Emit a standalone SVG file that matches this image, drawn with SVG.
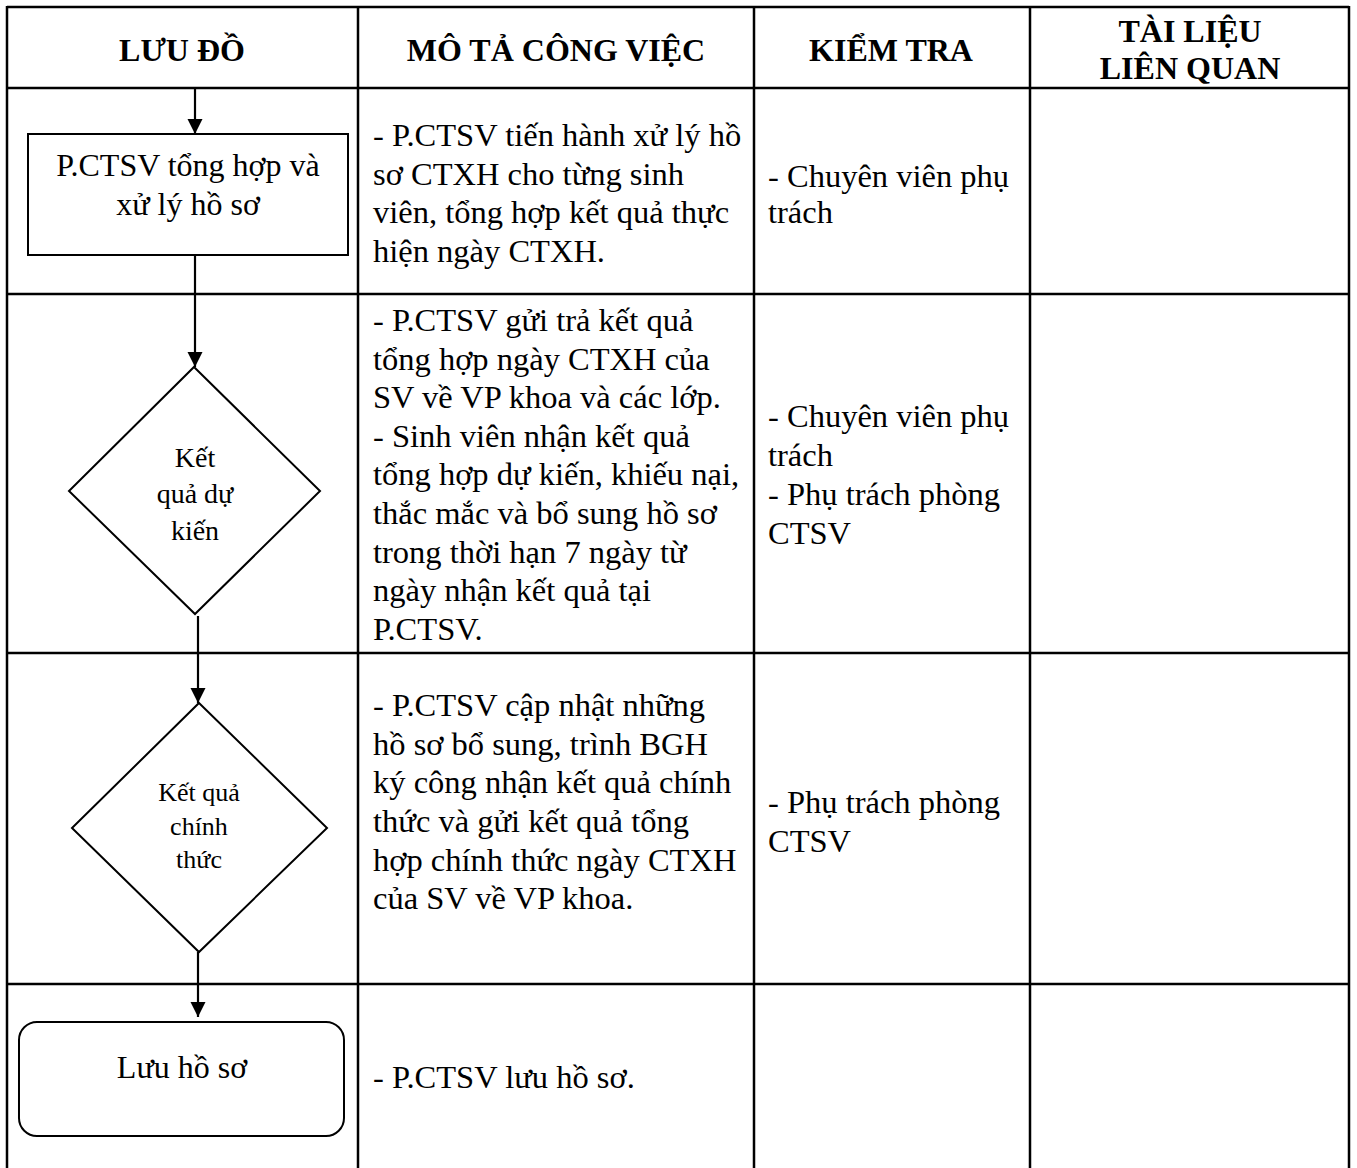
<svg xmlns="http://www.w3.org/2000/svg" width="1357" height="1168" viewBox="0 0 1357 1168">
<style>
  text { font-family: "Liberation Serif", "Times New Roman", serif; fill: #000; }
  .hd { font-size: 32px; font-weight: bold; text-anchor: middle; }
  .tx { font-size: 32.5px; }
  .nd { font-size: 32px; text-anchor: middle; }
  .d1 { font-size: 28px; }
  .d2 { font-size: 26px; }
  .grid line { stroke: #000; stroke-width: 2.5; }
  .shape { fill: #fff; stroke: #000; stroke-width: 2; }
  .conn line { stroke: #000; stroke-width: 2.2; }
</style>
<defs>
  <marker id="arr" markerUnits="userSpaceOnUse" markerWidth="16" markerHeight="16" refX="15" refY="8" orient="auto">
    <path d="M0,0.5 L15,8 L0,15.5 Z" fill="#000"/>
  </marker>
</defs>
<rect width="1357" height="1168" fill="#fff"/>

<g id="table" class="grid">
  <line x1="7" y1="7" x2="1349" y2="7"/>
  <line x1="7" y1="88" x2="1349" y2="88"/>
  <line x1="7" y1="294" x2="1349" y2="294"/>
  <line x1="7" y1="653" x2="1349" y2="653"/>
  <line x1="7" y1="984" x2="1349" y2="984"/>
  <line x1="7" y1="6" x2="7" y2="1168"/>
  <line x1="358" y1="6" x2="358" y2="1168"/>
  <line x1="754" y1="6" x2="754" y2="1168"/>
  <line x1="1030" y1="6" x2="1030" y2="1168"/>
  <line x1="1349" y1="6" x2="1349" y2="1168"/>
</g>

<g id="headers">
  <text class="hd" x="182" y="61">LƯU ĐỒ</text>
  <text class="hd" x="556" y="61">MÔ TẢ CÔNG VIỆC</text>
  <text class="hd" x="891" y="61">KIỂM TRA</text>
  <text class="hd" x="1190" y="42">TÀI LIỆU</text>
  <text class="hd" x="1190" y="79">LIÊN QUAN</text>
</g>

<g id="connectors" class="conn">
  <line x1="195" y1="88" x2="195" y2="134" marker-end="url(#arr)"/>
  <line x1="195" y1="255" x2="195" y2="367" marker-end="url(#arr)"/>
  <line x1="198" y1="616" x2="198" y2="703" marker-end="url(#arr)"/>
  <line x1="198" y1="952" x2="198" y2="1017" marker-end="url(#arr)"/>
</g>

<g id="node-process">
  <rect class="shape" x="28" y="134" width="320" height="121"/>
  <text class="nd" x="188" y="176">P.CTSV tổng hợp và</text>
  <text class="nd" x="188" y="215">xử lý hồ sơ</text>
</g>

<g id="node-decision-1">
  <polygon class="shape" points="194,367 320,491 195,614 69,491"/>
  <text class="nd d1" x="195" y="467">Kết</text>
  <text class="nd d1" x="195" y="503">quả dự</text>
  <text class="nd d1" x="195" y="540">kiến</text>
</g>

<g id="node-decision-2">
  <polygon class="shape" points="199,703 327,828 199,952 72,828"/>
  <text class="nd d2" x="199" y="801">Kết quả</text>
  <text class="nd d2" x="199" y="835">chính</text>
  <text class="nd d2" x="199" y="868">thức</text>
</g>

<g id="node-end">
  <rect class="shape" x="19" y="1022" width="325" height="114" rx="18" ry="18"/>
  <text class="nd" x="182" y="1078">Lưu hồ sơ</text>
</g>

<g id="desc">
  <text class="tx" x="373" y="146">- P.CTSV tiến hành xử lý hồ</text>
  <text class="tx" x="373" y="185">sơ CTXH cho từng sinh</text>
  <text class="tx" x="373" y="223">viên, tổng hợp kết quả thực</text>
  <text class="tx" x="373" y="262">hiện ngày CTXH.</text>

  <text class="tx" x="373" y="331">- P.CTSV gửi trả kết quả</text>
  <text class="tx" x="373" y="370">tổng hợp ngày CTXH của</text>
  <text class="tx" x="373" y="408">SV về VP khoa và các lớp.</text>
  <text class="tx" x="373" y="447">- Sinh viên nhận kết quả</text>
  <text class="tx" x="373" y="485">tổng hợp dự kiến, khiếu nại,</text>
  <text class="tx" x="373" y="524">thắc mắc và bổ sung hồ sơ</text>
  <text class="tx" x="373" y="563">trong thời hạn 7 ngày từ</text>
  <text class="tx" x="373" y="601">ngày nhận kết quả tại</text>
  <text class="tx" x="373" y="640">P.CTSV.</text>

  <text class="tx" x="373" y="716">- P.CTSV cập nhật những</text>
  <text class="tx" x="373" y="755">hồ sơ bổ sung, trình BGH</text>
  <text class="tx" x="373" y="793">ký công nhận kết quả chính</text>
  <text class="tx" x="373" y="832">thức và gửi kết quả tổng</text>
  <text class="tx" x="373" y="871">hợp chính thức ngày CTXH</text>
  <text class="tx" x="373" y="909">của SV về VP khoa.</text>

  <text class="tx" x="373" y="1088">- P.CTSV lưu hồ sơ.</text>
</g>

<g id="check">
  <text class="tx" x="768" y="187">- Chuyên viên phụ</text>
  <text class="tx" x="768" y="223">trách</text>

  <text class="tx" x="768" y="427">- Chuyên viên phụ</text>
  <text class="tx" x="768" y="466">trách</text>
  <text class="tx" x="768" y="505">- Phụ trách phòng</text>
  <text class="tx" x="768" y="544">CTSV</text>

  <text class="tx" x="768" y="813">- Phụ trách phòng</text>
  <text class="tx" x="768" y="852">CTSV</text>
</g>
</svg>
